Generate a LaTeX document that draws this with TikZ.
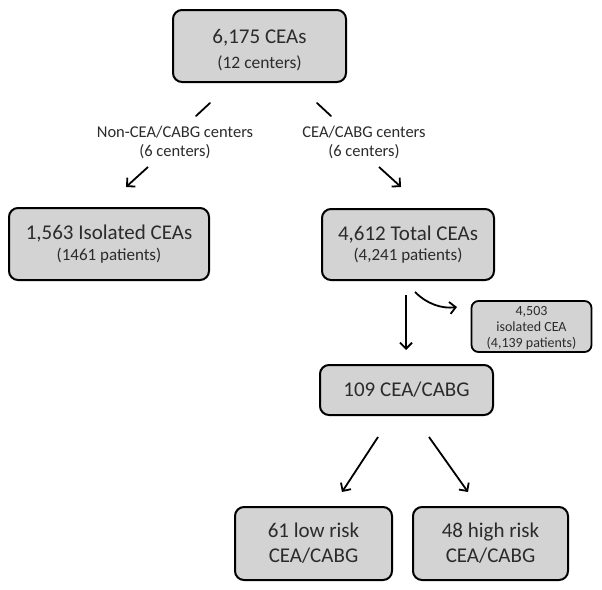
\documentclass[tikz,border=0pt]{standalone}
\usepackage{fontspec}
\setmainfont{Carlito}
\usetikzlibrary{arrows.meta}
\definecolor{boxfill}{HTML}{D3D3D3}
\definecolor{txt}{HTML}{2B2B2B}
\begin{document}
\begin{tikzpicture}[x=1pt,y=-1pt,
  box/.style={draw=black, line width=2pt, rounded corners=9pt, fill=boxfill, inner sep=0pt, align=center, text=txt},
  big/.style={font=\fontsize{21}{25}\selectfont},
  two/.style={font=\fontsize{21}{20.5}\selectfont},
  sm/.style={font=\fontsize{14}{16}\selectfont},
  lab/.style={align=center, text=txt, inner sep=0pt, font=\fontsize{16.5}{19}\selectfont},
  seg/.style={line width=1.8pt, line cap=round},
  arr/.style={line width=1.8pt, -{Straight Barb[length=6pt,width=12pt,line width=1.8pt]}}]
\useasboundingbox (0,0) rectangle (602,589);
\fill[white] (0,0) rectangle (602,589);

\node[box, big, minimum width=173pt, minimum height=72pt] (top) at (259.5,46)
  {\rule{0pt}{22pt}6,175 CEAs\\\fontsize{17.5}{25}\selectfont (12 centers)};
\node[box, two, minimum width=200pt, minimum height=72pt] (iso) at (109,244)
  {1,563 Isolated CEAs\\\fontsize{17}{20.5}\selectfont (1461 patients)};
\node[box, two, minimum width=172pt, minimum height=71pt] (tot) at (408,244.5)
  {4,612 Total CEAs\\\fontsize{17}{20.5}\selectfont (4,241 patients)};
\node[box, sm, line width=1.8pt, rounded corners=7pt, minimum width=120pt, minimum height=51pt] (small) at (531.5,326.5)
  {\rule{0pt}{12pt}4,503\\isolated CEA\\(4,139 patients)};
\node[box, big, minimum width=173pt, minimum height=50pt] (cabg) at (406.5,390)
  {109 CEA/CABG};
\node[box, big, minimum width=157pt, minimum height=73pt] (low) at (313.5,543.5)
  {61 low risk\\CEA/CABG};
\node[box, big, minimum width=155pt, minimum height=73pt] (high) at (490.5,543.5)
  {48 high risk\\CEA/CABG};

\node[lab] (labL) at (175,142.5) {Non-CEA/CABG centers\\(6 centers)};
\node[lab] (labR) at (364,142.5) {CEA/CABG centers\\(6 centers)};

\coordinate (l1) at (210,103); \coordinate (l2) at (196,116);
\coordinate (l3) at (148,167); \coordinate (l4) at (126,187);
\coordinate (r1) at (317,103); \coordinate (r2) at (331,116);
\coordinate (r3) at (379,167); \coordinate (r4) at (401,187);
\coordinate (d1) at (406,295); \coordinate (d2) at (406,350);
\coordinate (c1) at (415,292); \coordinate (c2) at (457,307);
\coordinate (a1) at (378,437); \coordinate (a2) at (342,492);
\coordinate (b1) at (429,437); \coordinate (b2) at (468,492);

\draw[seg] (l1) -- (l2);
\draw[arr] (l3) -- (l4);
\draw[seg] (r1) -- (r2);
\draw[arr] (r3) -- (r4);
\draw[arr] (d1) -- (d2);
\draw[arr] (c1) .. controls (427,304) and (442,309) .. (c2);
\draw[arr] (a1) -- (a2);
\draw[arr] (b1) -- (b2);
\end{tikzpicture}
\end{document}
